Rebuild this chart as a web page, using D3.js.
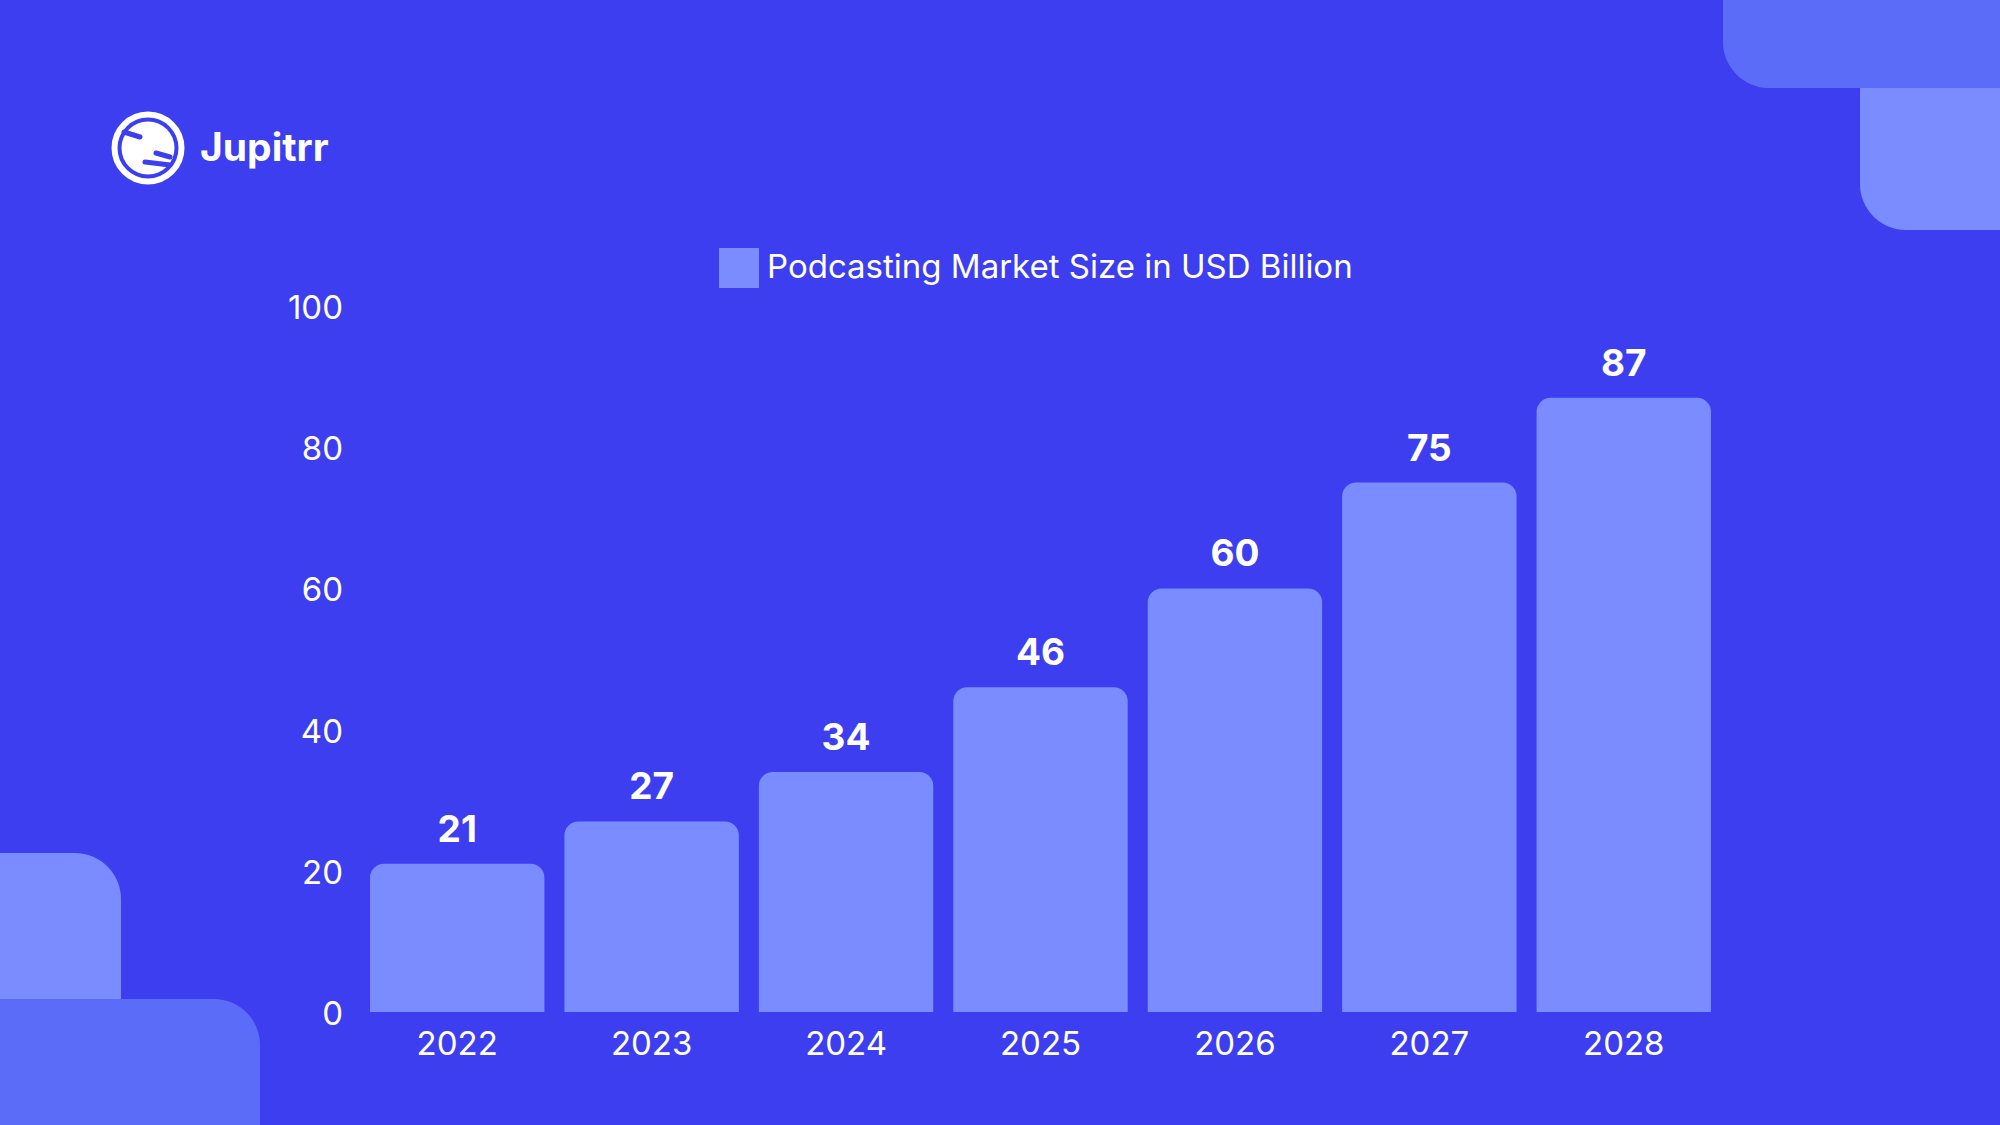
<!DOCTYPE html>
<html>
<head>
<meta charset="utf-8">
<script src="https://cdn.jsdelivr.net/npm/d3@7"></script>
<style>
  html, body { margin: 0; padding: 0; background: #3c3ef0; }
  svg { display: block; font-family: Inter, "Noto Sans", sans-serif; }
</style>
</head>
<body>
<svg id="chart"></svg>
<script>
const years = ["2022", "2023", "2024", "2025", "2026", "2027", "2028"];
const marketSize = [21, 27, 34, 46, 60, 75, 87];
const yTicks = [0, 20, 40, 60, 80, 100];
const seriesName = "Podcasting Market Size in USD Billion";
const brand = "Jupitrr";

const width = 2000, height = 1125;
const bg = "#3c3ef0", barColor = "#7a8cff", deco = "#5b6cf8";

const svg = d3.select("#chart").attr("width", width).attr("height", height);
svg.append("rect").attr("width", width).attr("height", height).attr("fill", bg);

// rounded rect path, corners = [tl, tr, br, bl]
function roundRect(x, y, w, h, r, corners) {
    const [tl, tr, br, bl] = corners.map(c => c ? r : 0);
    return `M${x + tl},${y}H${x + w - tr}` +
        (tr ? `A${tr},${tr} 0 0 1 ${x + w},${y + tr}` : "") +
        `V${y + h - br}` +
        (br ? `A${br},${br} 0 0 1 ${x + w - br},${y + h}` : "") +
        `H${x + bl}` +
        (bl ? `A${bl},${bl} 0 0 1 ${x},${y + h - bl}` : "") +
        `V${y + tl}` +
        (tl ? `A${tl},${tl} 0 0 1 ${x + tl},${y}` : "") + "Z";
}

// corner decorations
const decoG = svg.append("g");
decoG.append("path").attr("fill", barColor).attr("d", roundRect(1860, 40, 180, 190, 46, [0, 0, 0, 1]));
decoG.append("path").attr("fill", deco).attr("d", roundRect(1723, -60, 320, 148, 46, [0, 0, 0, 1]));
decoG.append("path").attr("fill", barColor).attr("d", roundRect(-40, 853, 161, 200, 46, [0, 1, 0, 0]));
decoG.append("path").attr("fill", deco).attr("d", roundRect(-40, 999, 300, 200, 46, [0, 1, 0, 0]));

// logo
const logo = svg.append("g").attr("transform", "translate(148,148)");
logo.append("circle").attr("r", 33.5).attr("fill", "none").attr("stroke", "#fff").attr("stroke-width", 6);
logo.append("circle").attr("r", 26.5).attr("fill", "#fff");
logo.selectAll("path.stripe")
    .data(["M-24,-16 L-8,-11", "M8,5 L22,9", "M-3,14 L22,17"])
    .join("path")
    .attr("d", d => d)
    .attr("stroke", bg).attr("stroke-width", 5).attr("stroke-linecap", "round").attr("fill", "none");
svg.append("text").attr("x", 200).attr("y", 161)
    .attr("fill", "#fff").attr("font-size", 39).attr("font-weight", 700)
    .text(brand);

// scales
const x = d3.scaleBand().domain(years).range([360, 1721]).paddingInner(0.103).paddingOuter(0.0515);
const y = d3.scaleLinear().domain([0, 100]).range([1012, 306]);

// axes
const yAxis = svg.append("g").attr("transform", "translate(343,2)")
    .call(d3.axisLeft(y).tickValues(yTicks).tickSize(0).tickPadding(0));
const xAxis = svg.append("g").attr("transform", `translate(0,${y(0)})`)
    .call(d3.axisBottom(x).tickSize(0).tickPadding(20));
[yAxis, xAxis].forEach(a => {
    a.select(".domain").remove();
    a.selectAll("text").attr("fill", "#fff").attr("font-size", 33)
        .attr("font-family", "Inter, sans-serif").attr("font-weight", 400);
});

// bars
const data = years.map((yr, i) => ({ year: yr, value: marketSize[i] }));
svg.append("g").selectAll("path")
    .data(data)
    .join("path")
    .attr("fill", barColor)
    .attr("d", d => roundRect(x(d.year), y(d.value), x.bandwidth(), y(0) - y(d.value), 14, [1, 1, 0, 0]));

svg.append("g").selectAll("text")
    .data(data)
    .join("text")
    .attr("x", d => x(d.year) + x.bandwidth() / 2)
    .attr("y", d => y(d.value) - 22)
    .attr("text-anchor", "middle")
    .attr("fill", "#fff").attr("font-size", 37).attr("font-weight", 700)
    .text(d => d.value);

// legend
const legend = svg.append("g").attr("transform", "translate(719,248)");
legend.append("rect").attr("width", 40).attr("height", 40).attr("fill", barColor);
legend.append("text").attr("x", 48).attr("y", 18).attr("dy", "0.35em")
    .attr("fill", "#fff").attr("font-size", 33).attr("font-weight", 400)
    .text(seriesName);
</script>
</body>
</html>
